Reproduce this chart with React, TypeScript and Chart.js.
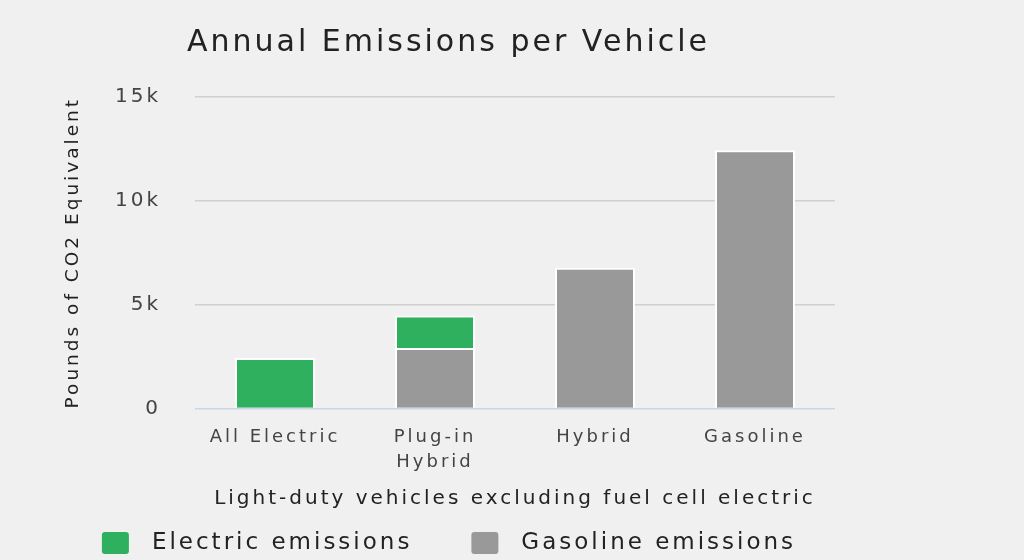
import { useEffect, useRef } from "react";
import { Chart, registerables } from "chart.js";

Chart.register(...registerables);

const categories: (string | string[])[] = ["All Electric", ["Plug-in", "Hybrid"], "Hybrid", "Gasoline"];
const electricEmissions: (number | null)[] = [2430, 1560, null, null];
const gasolineEmissions: (number | null)[] = [null, 2910, 6770, 12430];
const yTickValues = [0, 5000, 10000, 15000];

const FONT = "'DejaVu Sans', sans-serif";
const DARK = "#222222";
const TICK = "#444444";
const LETTER_SPACING = "3px";

// Wide, airy lettering for every text drawn on the canvas.
const letterSpacingPlugin = {
  id: "letterSpacing",
  beforeLayout(chart: any) {
    chart.ctx.letterSpacing = LETTER_SPACING;
  },
  beforeDraw(chart: any) {
    chart.ctx.letterSpacing = LETTER_SPACING;
  },
};

// Legend row under the axis title: electric first, then gasoline, with roomy spacing.
const bottomLegendPlugin = {
  id: "bottomLegend",
  afterDraw(chart: any) {
    const ctx = chart.ctx as CanvasRenderingContext2D;
    const items = [...chart.data.datasets]
      .reverse()
      .map((ds: any) => ({ text: ds.label as string, color: ds.backgroundColor as string }));
    const boxW = 27;
    const boxH = 22;
    const gap = 23;
    const itemGap = 59;
    ctx.save();
    (ctx as any).letterSpacing = LETTER_SPACING;
    ctx.font = `23px ${FONT}`;
    const widths = items.map((it) => ctx.measureText(it.text).width);
    const total = widths.reduce((s, w) => s + boxW + gap + w, 0) + itemGap * (items.length - 1);
    let x = chart.width / 2 + 9 - total / 2;
    const cy = chart.height - 17;
    items.forEach((it, i) => {
      ctx.fillStyle = it.color;
      ctx.beginPath();
      ctx.roundRect(x, cy - boxH / 2, boxW, boxH, 3);
      ctx.fill();
      ctx.fillStyle = DARK;
      ctx.textAlign = "left";
      ctx.textBaseline = "middle";
      ctx.fillText(it.text, x + boxW + gap, cy);
      x += boxW + gap + widths[i] + itemGap;
    });
    ctx.restore();
  },
};

export default function App() {
  const canvasRef = useRef<HTMLCanvasElement | null>(null);

  useEffect(() => {
    const canvas = canvasRef.current;
    if (!canvas) return;
    const chart = new Chart(canvas, {
      type: "bar",
      plugins: [letterSpacingPlugin, bottomLegendPlugin],
      data: {
        labels: categories,
        datasets: [
          {
            label: "Gasoline emissions",
            data: gasolineEmissions,
            backgroundColor: "#999999",
            borderColor: "#ffffff",
            borderWidth: 2,
          },
          {
            label: "Electric emissions",
            data: electricEmissions,
            backgroundColor: "#2eb05f",
            borderColor: "#ffffff",
            borderWidth: 2,
          },
        ],
      },
      options: {
        responsive: false,
        animation: false,
        datasets: {
          bar: { categoryPercentage: 1, barPercentage: 0.5 },
        },
        layout: { padding: { top: 25, right: 45, left: 62, bottom: 49 } },
        plugins: {
          title: {
            display: true,
            text: "Annual Emissions per Vehicle",
            color: DARK,
            font: { family: FONT, size: 30, weight: "normal" },
            padding: { top: 0, bottom: 36 },
          },
          legend: { display: false },
          tooltip: { enabled: false },
        },
        scales: {
          x: {
            stacked: true,
            grid: { display: false },
            border: { display: false },
            ticks: {
              color: TICK,
              font: { family: FONT, size: 18, lineHeight: 1.35 },
              padding: 9,
              maxRotation: 0,
            },
            title: {
              display: true,
              text: "Light-duty vehicles excluding fuel cell electric",
              color: DARK,
              font: { family: FONT, size: 20 },
              padding: { top: 4, bottom: 0 },
            },
          },
          y: {
            stacked: true,
            min: 0,
            max: 15000,
            afterBuildTicks: (axis: any) => {
              axis.ticks = yTickValues.map((v) => ({ value: v }));
            },
            afterFit: (axis: any) => {
              axis.width = 133;
            },
            grid: {
              drawTicks: false,
              color: (ctx: any) => (ctx.tick && ctx.tick.value === 0 ? "#ccd6eb" : "#cfcfcf"),
              lineWidth: 1.5,
            },
            border: { display: false },
            ticks: {
              color: TICK,
              font: { family: FONT, size: 20 },
              padding: 34,
              callback: (v: any) => (Number(v) === 0 ? "0" : `${Number(v) / 1000}k`),
            },
            title: {
              display: true,
              text: "Pounds of CO2 Equivalent",
              color: DARK,
              font: { family: FONT, size: 18.5 },
              padding: { top: 0, bottom: 0 },
            },
          },
        },
      },
    });
    return () => chart.destroy();
  }, []);

  return (
    <div
      style={{
        position: "absolute",
        left: 0,
        top: 0,
        width: 1024,
        height: 560,
        background: "#f0f0f0",
        overflow: "hidden",
      }}
    >
      <canvas ref={canvasRef} width={880} height={560} style={{ display: "block" }} />
    </div>
  );
}
